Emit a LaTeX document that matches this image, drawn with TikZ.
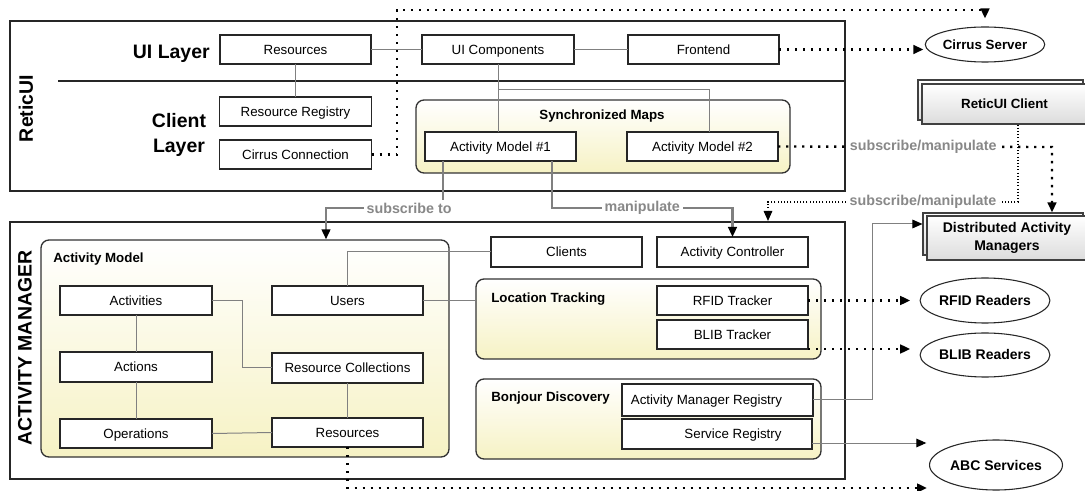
\documentclass[tikz,border=0pt]{standalone}
\usepackage{fontspec}
\setmainfont{Liberation Sans}
\usetikzlibrary{arrows.meta,calc,shapes.geometric}
\definecolor{gline}{RGB}{128,128,128}
\definecolor{glab}{RGB}{136,136,136}
\definecolor{ylw}{RGB}{246,242,196}
\definecolor{gbot}{RGB}{220,220,220}
\tikzset{
 wh/.style 2 args={minimum width=#1*0.75pt, minimum height=#2*0.75pt},
 box/.style={draw=black!85, line width=0.9pt, fill=white, inner sep=0pt, outer sep=0pt,
   font=\fontsize{10}{12}\selectfont, text height=7.2pt, text depth=0pt},
 outerbox/.style={draw=black!85, line width=1.6pt, inner sep=0pt},
 grp/.style={draw=black!80, line width=1pt, rounded corners=6pt, top color=white, bottom color=ylw, inner sep=0pt},
 ttl/.style={font=\fontsize{10}{12}\selectfont\bfseries, inner sep=0pt},
 big/.style={font=\fontsize{14.6}{18.5}\selectfont\bfseries, inner sep=0pt, align=center},
 ell/.style={draw=black!85, line width=0.8pt, ellipse, fill=white, inner sep=0pt,
   font=\fontsize{10.5}{12}\selectfont\bfseries, text height=7.5pt, text depth=0pt},
 stk/.style={draw=black!75, line width=0.9pt, top color=white, bottom color=gbot, inner sep=0pt,
   font=\fontsize{10.5}{14}\selectfont\bfseries, align=center},
 conn/.style={draw=gline, line width=0.75pt},
 gconn/.style={draw=gline, line width=1.6pt},
 tip/.style={-{Triangle[length=7.5pt,width=6.5pt,color=black,fill=black]}},
 thickdot/.style={draw=black, line width=1.8pt, dash pattern=on 1.8pt off 4.2pt},
 thindot/.style={draw=black, line width=0.8pt, dash pattern=on 0.8pt off 1.6pt},
 lab/.style={fill=white, text=glab, font=\fontsize{10.7}{12}\selectfont\bfseries, inner sep=2pt},
}
\begin{document}
\begin{tikzpicture}[x=0.75pt,y=-0.75pt]
\useasboundingbox (0,0) rectangle (1085,491);
\fill[white] (0,0) rectangle (1085,491);

% outer frames
\node[outerbox, wh={835}{170}] (reticui) at (427.5,106) {};
\node[outerbox, wh={835}{257}] (am) at (427.5,350.5) {};
\draw[line width=1.6pt, black!85] (58,81) -- (845,81);

\node[big, rotate=90] (treticui) at (26,108.5) {ReticUI};
\node[big, anchor=base east] (tui) at (210,59) {UI Layer};
\node[big] (tcl) at (179,135) {Client\\Layer};
\node[big, rotate=90] (tam) at (25,348) {ACTIVITY MANAGER};

% groups
\node[grp, wh={374}{73}] (sm) at (603,136.5) {};
\node[ttl, anchor=base] (smt) at (602,120) {Synchronized Maps};
\node[grp, wh={408}{217}] (amod) at (245,348.5) {};
\node[ttl, anchor=base west] (amodt) at (53,263) {Activity Model};
\node[grp, wh={345}{80}] (lt) at (648.5,319) {};
\node[ttl, anchor=base west] (ltt) at (491,303) {Location Tracking};
\node[grp, wh={345}{80}] (bd) at (648.5,419) {};
\node[ttl, anchor=base west] (bdt) at (491,402) {Bonjour Discovery};

% UI / client layer boxes
\node[box, wh={151}{29}] (resui) at (295.5,49.5) {Resources};
\node[box, wh={152}{29}] (uic) at (498,49.5) {UI Components};
\node[box, wh={151}{29}] (fe) at (703.5,49.5) {Frontend};
\node[box, wh={152}{29}] (rr) at (295.5,111.5) {Resource Registry};
\node[box, wh={152}{29}] (cc) at (295.5,154.5) {Cirrus Connection};
\node[box, wh={151}{29}] (am1) at (500.5,146.5) {Activity Model \#1};
\node[box, wh={151}{29}] (am2) at (702.5,146.5) {Activity Model \#2};

% activity manager boxes
\node[box, wh={152}{29}] (act) at (136,300.5) {Activities};
\node[box, wh={152}{30}] (acn) at (136,367) {Actions};
\node[box, wh={152}{29}] (ops) at (136,433.5) {Operations};
\node[box, wh={151}{29}] (usr) at (347.5,300.5) {Users};
\node[box, wh={151}{30}] (rcol) at (347.5,368) {Resource Collections};
\node[box, wh={151}{29}] (res) at (347.5,432.5) {Resources};
\node[box, wh={151}{30}] (cli) at (566.5,252) {Clients};
\node[box, wh={151}{30}] (ac) at (732.5,252) {Activity Controller};
\node[box, wh={151}{29}] (rfid) at (732.5,300.5) {RFID Tracker};
\node[box, wh={151}{29}] (blib) at (732.5,334.5) {BLIB Tracker};
\node[box, wh={191}{32}] (amr) at (717.5,400) {\hspace*{-16.5pt}Activity Manager Registry};
\node[box, wh={190}{30}] (sr) at (717,434) {Service Registry\hspace*{-24pt}};

% external nodes
\node[ell, wh={110}{35}, font=\fontsize{10}{12}\selectfont\bfseries] (cs) at (985,44.5) {Cirrus Server};
\node[stk, wh={165}{40}] (rcb) at (1000.5,100) {};
\node[stk, wh={165}{40}, font=\fontsize{10}{12}\selectfont\bfseries] (rc) at (1004.5,104) {ReticUI Client};
\node[stk, wh={160}{42}] (damb) at (1003,234) {};
\node[stk, wh={160}{44}] (dam) at (1007,238) {Distributed Activity\\Managers};
\node[ell, wh={110}{45}] (rfidr) at (985,300.5) {RFID Readers};
\node[ell, wh={110}{44}] (blibr) at (985,355) {BLIB Readers};
\node[ell, wh={133}{50}] (abc) at (996,465) {ABC Services};

% thin connectors
\draw[conn] (resui.south) -- (rr.north);
\draw[conn] (resui.east) -- (uic.west);
\draw[conn] (uic.east) -- (fe.west);
\draw[conn] (uic.south) -- (uic.south |- am1.north);
\coordinate (br) at (498,90);
\draw[conn] (br) -| ([xshift=5pt]am2.north);
\draw[conn] (act.south) -- (acn.north);
\draw[conn] (acn.south) -- (ops.north);
\coordinate (j1) at (242,300.5);
\draw[conn] (act.east) -- (j1) |- (rcol.west);
\draw[conn] (ops.east) -- (res.west);
\draw[conn] (rcol.south) -- (res.north);
\draw[conn] (usr.north) |- (cli.west);
\draw[conn] (usr.east) -- (usr.east -| lt.west);
\coordinate (k4) at (872,224);
\draw[conn, tip] (amr.east) -| (k4) -- (k4 -| damb.west);
\coordinate (srp) at ([yshift=4.5pt]sr.south east);
\draw[conn, tip, shorten >=2pt] (srp) -- (srp -| abc.west);

% labelled grey connectors
\coordinate (s1) at (443,208);
\coordinate (s2) at (326,208);
\draw[gconn, tip] (am1.south -| s1) -- (s1) -- node[lab, pos=0.29] {subscribe to} (s2) -- (s2 |- amod.north);
\coordinate (m1) at (552,208);
\draw[gconn, tip] (am1.south -| m1) -- (m1) -| node[lab, pos=0.25] {manipulate} (ac.north);

% dotted connectors
\draw[thickdot, tip, shorten >=1pt] (fe.east) -- (fe.east -| cs.west);
\coordinate (d1) at (397,10);
\draw[thickdot, tip, shorten >=6pt] (cc.east) -| (d1) -| (cs.north);
\coordinate (k1) at (1052,147);
\draw[thickdot, tip] (am2.east) -- node[lab, pos=0.53] {subscribe/manipulate} (k1) -- (k1 |- damb.north);
\coordinate (k2) at (1018,202);
\coordinate (k3) at (768,202);
\draw[thindot, tip] (rc.south -| k2) -- (k2) -- node[lab, pos=0.38] {subscribe/manipulate} (k3) -- (k3 |- am.north);
\draw[thickdot, tip, shorten >=7pt] (rfid.east) -- (rfid.east -| rfidr.west);
\draw[thickdot, tip, shorten >=7pt] (blib.south east) -- (blib.south east -| blibr.west);
\coordinate (k5) at (927,488);
\draw[thickdot, tip] (res.south) |- (k5);
\end{tikzpicture}
\end{document}
